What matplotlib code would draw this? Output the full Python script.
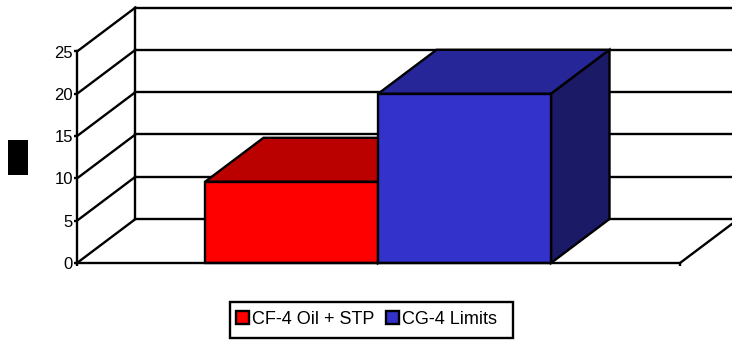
import matplotlib.pyplot as plt
from matplotlib.patches import Patch, Polygon, Rectangle

series_names = ["CF-4 Oil + STP", "CG-4 Limits"]
series_values = [9.6, 20]
y_ticks = [0, 5, 10, 15, 20, 25]

front_colors = ["#FF0000", "#3333CC"]
top_colors = ["#BB0000", "#262699"]
side_colors = ["#990000", "#1A1A66"]

LW = 1.7
DEPTH_X = 0.097
DEPTH_Y = 5.2
BAR_LEFT = 0.2123
BAR_WIDTH = 0.2869

plt.rcParams["font.family"] = ["Liberation Sans", "DejaVu Sans"]

fig = plt.figure(figsize=(7.32, 3.40), dpi=100)
ax = fig.add_axes([77 / 732, 77 / 340, 603 / 732, 211.5 / 340])
ax.set_xlim(0, 1)
ax.set_ylim(0, 25)
ax.patch.set_visible(False)

# wall and floor
for tick in y_ticks:
    ax.plot([0, DEPTH_X], [tick, tick + DEPTH_Y], color="black", lw=LW, clip_on=False, zorder=1)
    ax.plot([DEPTH_X, 1 + DEPTH_X], [tick + DEPTH_Y, tick + DEPTH_Y], color="black", lw=LW, clip_on=False, zorder=1)
ax.plot([DEPTH_X, DEPTH_X], [DEPTH_Y, 25 + DEPTH_Y], color="black", lw=LW, clip_on=False, zorder=1)
ax.plot([1, 1 + DEPTH_X], [0, DEPTH_Y], color="black", lw=LW, clip_on=False, zorder=1)

# bars, front face from ax.bar and the two faces behind it
for i, value in enumerate(series_values):
    left = BAR_LEFT + i * BAR_WIDTH
    right = left + BAR_WIDTH
    top = Polygon([(left, value), (left + DEPTH_X, value + DEPTH_Y),
                   (right + DEPTH_X, value + DEPTH_Y), (right, value)],
                  facecolor=top_colors[i], edgecolor="black", lw=LW, zorder=2 + i, clip_on=False, joinstyle="miter")
    side = Polygon([(right, 0), (right + DEPTH_X, DEPTH_Y),
                    (right + DEPTH_X, value + DEPTH_Y), (right, value)],
                   facecolor=side_colors[i], edgecolor="black", lw=LW, zorder=2 + i, clip_on=False, joinstyle="miter")
    ax.add_patch(top)
    ax.add_patch(side)
    ax.bar(left, value, width=BAR_WIDTH, align="edge", color=front_colors[i],
           edgecolor="black", lw=LW, zorder=2 + i, clip_on=False)

for name in ["top", "right"]:
    ax.spines[name].set_visible(False)
for name in ["left", "bottom"]:
    ax.spines[name].set_linewidth(LW)
    ax.spines[name].set_zorder(5)

ax.set_yticks(y_ticks)
ax.set_xticks([0, 1])
ax.set_xticklabels([])
ax.tick_params(axis="y", length=2.5, width=LW, pad=0.5, labelsize=12)
ax.tick_params(axis="x", length=2.5, width=LW)

# covered axis title, just a black block in the picture
fig.add_artist(Rectangle((8 / 732, 165 / 340), 20 / 732, 35 / 340, transform=fig.transFigure,
                         facecolor="black", edgecolor="none"))

# legend frame is uneven in the original, so it is drawn apart from the entries
fig.add_artist(Rectangle((229.5 / 732, 2 / 340), 283.5 / 732, 36 / 340, transform=fig.transFigure,
                         facecolor="white", edgecolor="black", lw=LW))
handles = [Patch(facecolor=c, edgecolor="black", lw=LW) for c in front_colors]
leg = fig.legend(handles, series_names, ncol=2, loc="center left", bbox_to_anchor=(236 / 732, 20.5 / 340),
                 frameon=False, fontsize=13, handlelength=0.72, handleheight=0.72,
                 handletextpad=0.17, columnspacing=0.62, borderpad=0, borderaxespad=0)

fig.savefig("out.png", dpi=100)
